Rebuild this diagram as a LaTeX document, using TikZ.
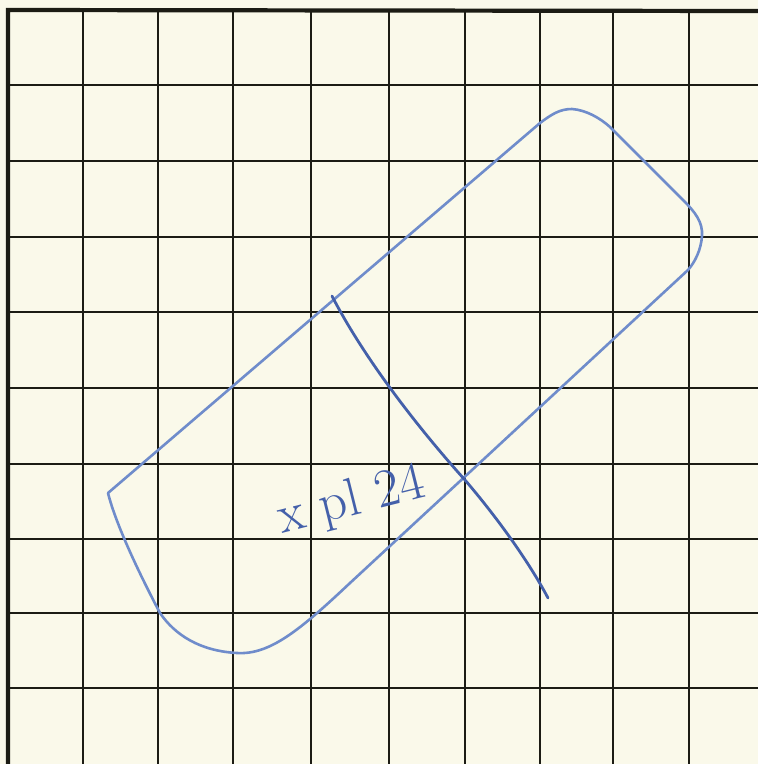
\documentclass[tikz,border=0pt]{standalone}
\usepackage{fontspec}
\begin{document}
\begin{tikzpicture}[x=1pt,y=-1pt,
  gridline/.style={draw=gridink,line width=2.6pt},
  borderline/.style={draw=gridink,line width=4.2pt},
  pen/.style={draw=penlight,line width=2.6pt,line cap=round,line join=round},
  pendark/.style={draw=pendark,line width=2.8pt,line cap=round},
  handtext/.style={text=pendark,font=\fontsize{54}{54}\selectfont,inner sep=0pt}]
\definecolor{paper}{HTML}{FAF9EA}
\definecolor{gridink}{HTML}{1C1C14}
\definecolor{penlight}{HTML}{6F8CCB}
\definecolor{pendark}{HTML}{4460AA}
\useasboundingbox (0,0) rectangle (758,764);
\fill[paper] (0,0) rectangle (758,764);
% grid
\foreach \x in {83,158,233,311,389,465,540,613,689}
  \draw[gridline] (\x,11) -- (\x,764);
\foreach \y in {85,161,237,312,388,464,539,613,688}
  \draw[gridline] (8,\y) -- (758,\y);
\draw[borderline] (8,764) -- (8,10) -- (758,11);
% rounded outline
\draw[pen] (108,493) -- (540,123)
  .. controls (552,114) and (560,109) .. (572,109)
  .. controls (586,110) and (600,118) .. (610,127)
  -- (683,200)
  .. controls (695,212) and (703,222) .. (702,236)
  .. controls (701,250) and (695,262) .. (688,270)
  -- (350,583)
  .. controls (300,630) and (270,655) .. (237,653)
  .. controls (200,651) and (175,635) .. (160,613)
  .. controls (140,575) and (116,525) .. (108,493);
% cut line
\draw[pendark] (332,296) .. controls (365,360) and (420,430) .. (465,480)
  .. controls (495,515) and (528,560) .. (548,598);
% label
\node[handtext,rotate=14] (lbl) at (352,502) {x pl 24};
\end{tikzpicture}
\end{document}
